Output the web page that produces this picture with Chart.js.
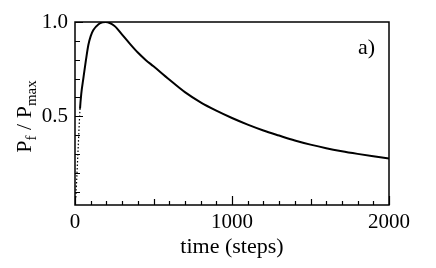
<!DOCTYPE html>
<html><head><meta charset="utf-8">
<script src="https://cdn.jsdelivr.net/npm/chart.js@4/dist/chart.umd.min.js"></script>
<style>html,body{margin:0;padding:0;background:#fff}#wrap{width:436px;height:268px}</style>
</head><body><div id="wrap"><canvas id="c" width="436" height="268"></canvas></div>
<script>
// Data
const timeSteps = [5, 10, 20, 32, 40, 53, 70, 85, 100, 117, 150, 175, 195, 250, 300, 350, 400, 450, 500, 600, 700, 800, 900, 1000, 1100, 1200, 1300, 1400, 1500, 1600, 1700, 1800, 1900, 2000];
const pfOverPmax = [0.07, 0.15, 0.33, 0.54, 0.62, 0.70, 0.80, 0.878, 0.925, 0.957, 0.988, 0.998, 1.0, 0.98, 0.933, 0.884, 0.838, 0.799, 0.765, 0.695, 0.628, 0.574, 0.530, 0.491, 0.456, 0.425, 0.398, 0.372, 0.350, 0.331, 0.315, 0.301, 0.288, 0.276];
const dottedUntil = 32;
const xTickLabels = [0, 1000, 2000];
const yTickLabels = [0.5, 1.0];
const xTitle = 'time (steps)';
const panelLabel = 'a)';

const FONT = "'Liberation Serif', 'DejaVu Serif', serif";
const pts = timeSteps.map((t, i) => ({x: t, y: pfOverPmax[i]}));

const frameAndTicks = {
  id: 'frameAndTicks',
  afterDraw(chart) {
    const ctx = chart.ctx, a = chart.chartArea;
    const xs = chart.scales.x, ys = chart.scales.y;
    ctx.save();
    ctx.strokeStyle = '#000';
    ctx.lineWidth = 1.5;
    ctx.strokeRect(a.left, a.top, a.right - a.left, a.bottom - a.top);
    ctx.lineWidth = 1.2;
    ctx.beginPath();
    for (let v = 0; v <= 2000; v += 100) {
      const px = Math.round(xs.getPixelForValue(v)) + 0.5;
      const len = v % 1000 === 0 ? 9 : (v % 500 === 0 ? 6 : 4);
      ctx.moveTo(px, a.bottom); ctx.lineTo(px, a.bottom - len);
    }
    for (let k = 1; k <= 10; k++) {
      const v = k / 10;
      const py = Math.round(ys.getPixelForValue(v)) + 0.5;
      const len = (k % 5 === 0) ? 8 : 5;
      ctx.moveTo(a.left, py); ctx.lineTo(a.left + len, py);
    }
    ctx.stroke();
    // y title with subscripts
    ctx.fillStyle = '#000';
    ctx.translate(31, (a.top + a.bottom) / 2 + 3);
    ctx.rotate(-Math.PI / 2);
    const big = "22px " + FONT, small = "15px " + FONT;
    const parts = [['P', big, 0], ['f', small, 5], [' / P', big, 0], ['max', small, 5]];
    let w = 0;
    parts.forEach(p => { ctx.font = p[1]; w += ctx.measureText(p[0]).width; });
    let x = -w / 2;
    ctx.textBaseline = 'alphabetic';
    parts.forEach(p => { ctx.font = p[1]; ctx.fillText(p[0], x, p[2]); x += ctx.measureText(p[0]).width; });
    ctx.restore();
    // panel label
    ctx.save();
    ctx.font = "22px " + FONT;
    ctx.fillStyle = '#000';
    ctx.textAlign = 'right';
    ctx.textBaseline = 'middle';
    ctx.fillText(panelLabel, a.right - 14, a.top + 26);
    ctx.restore();
  }
};

new Chart(document.getElementById('c'), {
  type: 'line',
  data: {
    datasets: [{
      data: pts,
      borderColor: '#000',
      borderWidth: 2,
      pointRadius: 0,
      cubicInterpolationMode: 'monotone',
      fill: false,
      segment: {
        borderDash: c => c.p1.parsed.x <= dottedUntil ? [1.5, 2] : undefined,
        borderWidth: c => c.p1.parsed.x <= dottedUntil ? 1.2 : 2
      }
    }]
  },
  options: {
    responsive: false,
    animation: false,
    layout: {padding: {top: 22, right: 47, left: 0, bottom: 0}},
    plugins: {legend: {display: false}, tooltip: {enabled: false}},
    scales: {
      x: {
        type: 'linear', min: 0, max: 2000,
        afterBuildTicks: s => { s.ticks = xTickLabels.map(v => ({value: v})); },
        grid: {display: false, drawTicks: false},
        border: {display: false},
        ticks: {color: '#000', font: {family: FONT, size: 21}, padding: 5, maxRotation: 0,
                callback: v => String(v)},
        title: {display: true, text: xTitle, color: '#000', font: {family: FONT, size: 22}, padding: {top: 0, bottom: 8}},
        afterFit: s => { s.height = 63; }
      },
      y: {
        type: 'linear', min: 0.03, max: 1.0,
        afterBuildTicks: s => { s.ticks = yTickLabels.map(v => ({value: v})); },
        grid: {display: false, drawTicks: false},
        border: {display: false},
        ticks: {color: '#000', font: {family: FONT, size: 21}, padding: 7,
                callback: v => v.toFixed(1)},
        afterFit: s => { s.width = 75; }
      }
    }
  },
  plugins: [frameAndTicks]
});
</script>
</body></html>
